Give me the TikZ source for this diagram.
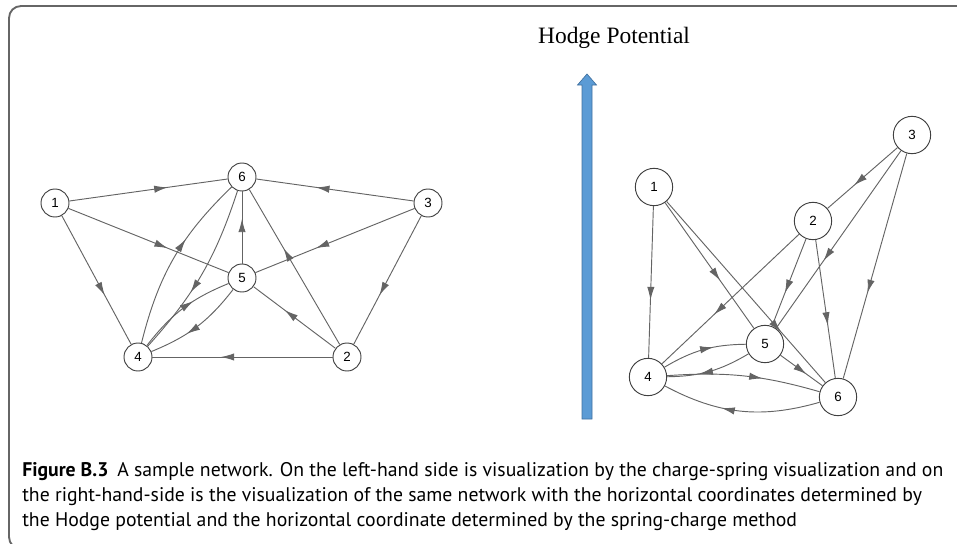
\documentclass[tikz,border=0pt]{standalone}
\usepackage{fontspec}
\setmainfont{Liberation Serif}
\setsansfont{PT Sans}
\newfontfamily\digitfont{Liberation Sans}
\usetikzlibrary{arrows.meta,decorations.markings}

\definecolor{edgegray}{RGB}{100,100,100}
\definecolor{hodgeblue}{RGB}{91,155,213}
\definecolor{hodgeedge}{RGB}{65,113,160}

\tikzset{
  vert/.style={circle,draw=black!75,fill=white,line width=0.7pt,inner sep=0pt,
    font=\digitfont\fontsize{10}{12}\selectfont},
  lvert/.style={vert,minimum size=21pt},
  rvert/.style={vert,minimum size=28pt},
  link/.style={color=edgegray,line width=0.7pt,postaction={decorate},
    decoration={markings,mark=at position #1 with {\arrow{Latex[length=10pt,width=5.5pt]}}}},
  link/.default=0.62,
  capline/.style={anchor=base west,inner sep=0pt,font=\sffamily\fontsize{14.8}{18}\selectfont},
}

\begin{document}
\begin{tikzpicture}[x=0.75pt,y=-0.75pt]
  \useasboundingbox (0,0) rectangle (957,543);

  %% ---- Frame ----
  \draw[black!60,line width=1.4pt,rounded corners=9pt] (975,6) -- (9,6) -- (9,549) -- (975,549);

  %% ---- Left panel: charge-spring layout ----
  \foreach \n/\x/\y in {1/55/203, 6/242/177, 3/428/203, 5/242/278, 4/138/357, 2/347/357}
    \node[lvert] (l\n) at (\x,\y) {\n};

  \foreach \a/\b in {1/6, 3/6, 1/5, 1/4, 5/6, 3/5, 3/2, 2/6, 2/5, 2/4}
    \draw[link] (l\a) -- (l\b);

  % pairs of opposite edges
  \draw[link] (l4) to[bend left=16] (l6);
  \draw[link] (l6) to[bend left=12] (l4);
  \draw[link] (l4) to[bend left=15] (l5);
  \draw[link] (l5) to[bend left=15] (l4);

  %% ---- Hodge potential axis ----
  \node[font=\fontsize{17.6}{20}\selectfont,anchor=base] (hodge) at (614,43) {Hodge Potential};
  \draw[fill=hodgeblue,draw=hodgeedge,line width=0.5pt]
    (582,419) -- (582,85) -- (577.5,85) -- (587,74) -- (596.5,85) -- (592,85) -- (592,419) -- cycle;

  %% ---- Right panel: Hodge layout ----
  \foreach \n/\x/\y in {3/912/135, 1/654/187, 2/813/221, 5/765/344, 4/648/377, 6/838/397}
    \node[rvert] (r\n) at (\x,\y) {\n};

  \foreach \a/\b in {1/4, 1/5, 3/2, 3/5, 3/6, 2/4, 2/5, 2/6, 5/6}
    \draw[link] (r\a) -- (r\b);
  \draw[link=0.72] (r1) -- (r6);

  % pairs of opposite edges
  \draw[link] (r4) to[bend left=15] (r5);
  \draw[link] (r5) to[bend left=15] (r4);
  \draw[link] (r4) to[bend left=10] (r6);
  \draw[link] (r6) to[bend left=22] (r4);

  %% ---- Caption ----
  \node[capline] (cap1) at (22,476) {\textbf{Figure B.3}\hspace{0.45em}A sample network. On the left-hand side is visualization by the charge-spring visualization and on};
  \node[capline] (cap2) at (22,501) {the right-hand-side is the visualization of the same network with the horizontal coordinates determined by};
  \node[capline] (cap3) at (22,526) {the Hodge potential and the horizontal coordinate determined by the spring-charge method};
\end{tikzpicture}
\end{document}
